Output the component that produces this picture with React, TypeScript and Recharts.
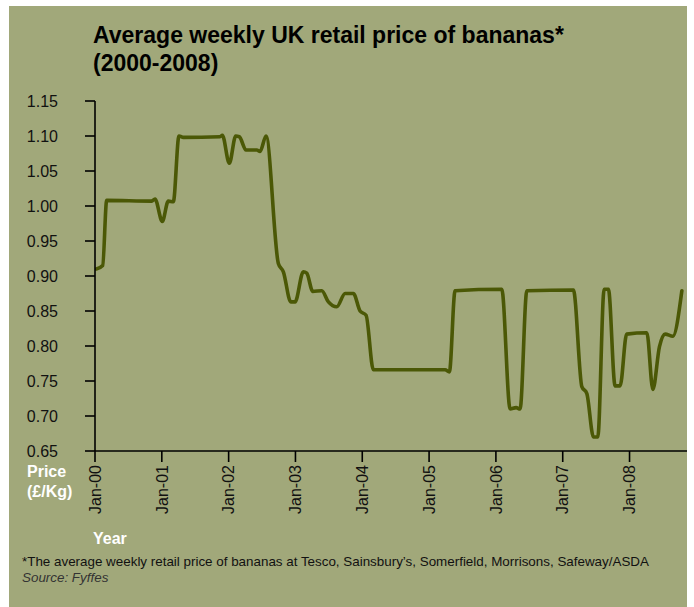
import React from 'react';
import { LineChart, Line, XAxis, YAxis } from 'recharts';

const weekDates: number[] = [
  2000.02, 2000.115, 2000.175, 2000.849, 2000.898, 2001.007, 2001.097, 2001.172,
  2001.257, 2001.322, 2001.871, 2001.906, 2002.01, 2002.106, 2002.16, 2002.26,
  2002.421, 2002.47, 2002.56, 2002.744, 2002.819, 2002.93, 2002.994, 2003.118,
  2003.169, 2003.259, 2003.394, 2003.493, 2003.618, 2003.743, 2003.867, 2003.967,
  2004.057, 2004.166, 2005.24, 2005.304, 2005.389, 2006.088, 2006.213, 2006.302,
  2006.362, 2006.463, 2007.16, 2007.286, 2007.361, 2007.46, 2007.525, 2007.62,
  2007.684, 2007.784, 2007.859, 2007.957, 2008.259, 2008.349, 2008.448, 2008.533,
  2008.648, 2008.783,
];

const prices: number[] = [
  0.91, 0.915, 1.008, 1.007, 1.01, 0.978, 1.007, 1.006,
  1.1, 1.098, 1.099, 1.101, 1.061, 1.1, 1.099, 1.08,
  1.08, 1.078, 1.1, 0.918, 0.906, 0.863, 0.863, 0.906,
  0.904, 0.878, 0.879, 0.863, 0.856, 0.875, 0.875, 0.85,
  0.844, 0.766, 0.766, 0.763, 0.879, 0.881, 0.71, 0.712,
  0.71, 0.879, 0.88, 0.742, 0.732, 0.67, 0.67, 0.881,
  0.881, 0.743, 0.743, 0.817, 0.819, 0.738, 0.799, 0.817,
  0.814, 0.879,
];

const yearTicks: number[] = [2000, 2001, 2002, 2003, 2004, 2005, 2006, 2007, 2008];
const priceTicks: number[] = [0.65, 0.7, 0.75, 0.8, 0.85, 0.9, 0.95, 1.0, 1.05, 1.1, 1.15];

const titleLines: string[] = ['Average weekly UK retail price of bananas*', '(2000-2008)'];
const footnote = '*The average weekly retail price of bananas at Tesco, Sainsbury\u2019s, Somerfield, Morrisons, Safeway/ASDA';
const sourceText = 'Source: Fyffes';

const data = weekDates.map((d, i) => ({ date: d, price: prices[i] }));

const FONT = '"Liberation Sans", Arial, Helvetica, sans-serif';
const BG = '#a1a87a';
const LINE = '#4b5806';

const CHART_W = 694;
const CHART_H = 607;
const MARGIN = { top: 101, right: 7, bottom: 56, left: 0 };
const Y_AXIS_W = 95;
const X_AXIS_H = 100;
const PLOT_LEFT = MARGIN.left + Y_AXIS_W;
const PLOT_BOTTOM = CHART_H - MARGIN.bottom - X_AXIS_H;

const XTick = (props: any) => {
  const { x, payload } = props;
  const label = 'Jan-' + String(payload.value % 100).padStart(2, '0');
  return (
    <g>
      <line x1={x} x2={x} y1={PLOT_BOTTOM} y2={PLOT_BOTTOM + 11} stroke="#000" strokeWidth={1.6} />
      <g transform={`translate(${x},${PLOT_BOTTOM + 14})`}>
        <text transform="rotate(-90)" textAnchor="end" dy="0.36em" fill="#111" fontSize={16} fontFamily={FONT}>
          {label}
        </text>
      </g>
    </g>
  );
};

const YTick = (props: any) => {
  const { y, payload } = props;
  return (
    <g>
      <line x1={PLOT_LEFT - 10} x2={PLOT_LEFT} y1={y} y2={y} stroke="#000" strokeWidth={1.6} />
      <text x={PLOT_LEFT - 37} y={y} dy="0.36em" textAnchor="end" fill="#111" fontSize={16} fontFamily={FONT}>
        {Number(payload.value).toFixed(2)}
      </text>
    </g>
  );
};

export default function App() {
  return (
    <div style={{ position: 'absolute', left: 0, top: 0, width: 694, height: 607, background: '#fff', fontFamily: FONT }}>
      <div style={{ position: 'absolute', left: 9, top: 6, width: 678, height: 601, background: BG }} />
      <div style={{ position: 'absolute', left: 0, top: 0 }}>
        <LineChart width={CHART_W} height={CHART_H} data={data} margin={MARGIN}>
          <XAxis
            dataKey="date"
            type="number"
            domain={[2000, 2008.86]}
            ticks={yearTicks}
            allowDataOverflow
            height={X_AXIS_H}
            tick={<XTick />}
            tickLine={false}
            axisLine={{ stroke: '#000', strokeWidth: 1.6 }}
            interval={0}
          />
          <YAxis
            type="number"
            domain={[0.65, 1.15]}
            ticks={priceTicks}
            allowDataOverflow
            width={Y_AXIS_W}
            tick={<YTick />}
            tickLine={false}
            axisLine={{ stroke: '#000', strokeWidth: 1.6 }}
            interval={0}
          />
          <Line
            type="monotone"
            dataKey="price"
            stroke={LINE}
            strokeWidth={3.6}
            dot={false}
            isAnimationActive={false}
            strokeLinejoin="round"
            strokeLinecap="round"
          />
        </LineChart>
      </div>
      <div style={{ position: 'absolute', left: 93, top: 21, fontSize: 23, fontWeight: 'bold', color: '#000', lineHeight: '28px', whiteSpace: 'nowrap' }}>
        {titleLines.map((t) => (
          <div key={t}>{t}</div>
        ))}
      </div>
      <div style={{ position: 'absolute', left: 27, top: 462, fontSize: 16, fontWeight: 'bold', color: '#fff', lineHeight: '20px' }}>
        <div>Price</div>
        <div>(£/Kg)</div>
      </div>
      <div style={{ position: 'absolute', left: 93, top: 529, fontSize: 16, fontWeight: 'bold', color: '#fff', lineHeight: '20px' }}>
        Year
      </div>
      <div style={{ position: 'absolute', left: 22, top: 554, fontSize: 13.4, color: '#111', lineHeight: '16px', whiteSpace: 'nowrap' }}>
        <div>{footnote}</div>
        <div style={{ fontStyle: 'italic', color: '#333' }}>{sourceText}</div>
      </div>
    </div>
  );
}
